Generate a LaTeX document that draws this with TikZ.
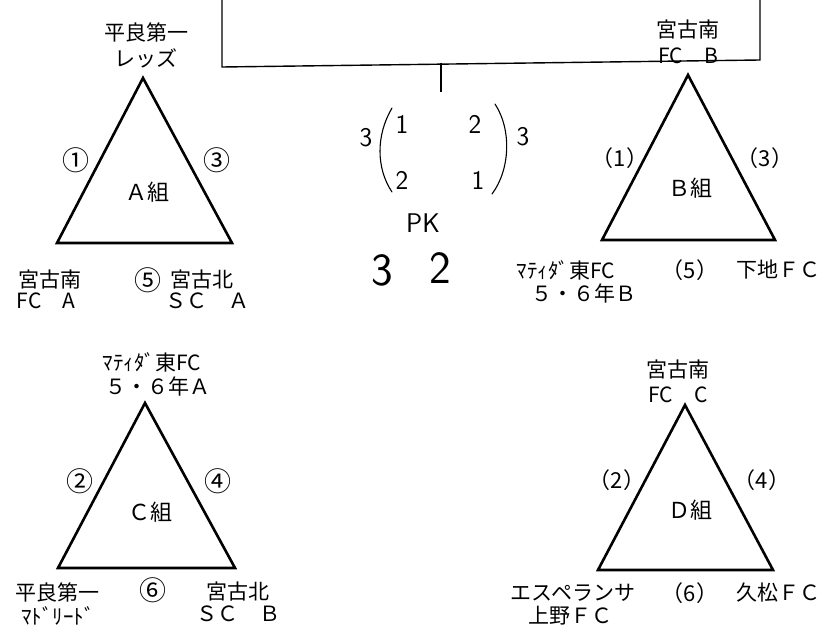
\documentclass[tikz,border=0pt]{standalone}
\usepackage{fontspec}
\setmainfont{Noto Sans CJK JP}
\usetikzlibrary{positioning}

\begin{document}
\begin{tikzpicture}[
    x=1pt, y=-1pt,
    every node/.style={font=\fontsize{21}{23}\selectfont, inner sep=1pt},
    num/.style={font=\fontsize{27}{28}\selectfont},
    pnum/.style={font=\fontsize{22}{24}\selectfont},
    grp/.style={font=\fontsize{22}{24}\selectfont},
    tri/.style={draw, line width=2.6pt, line join=miter},
    frame/.style={draw, line width=1.4pt},
    hand/.style={draw, line width=1.1pt, line cap=round},
    handtxt/.style={font=\fontsize{27}{29}\sffamily},
    bighand/.style={font=\fontsize{46}{48}\sffamily}
]
\useasboundingbox (0,0) rectangle (830,634);

\coordinate (topL) at (222,0);
\coordinate (cornL) at (222,67);
\coordinate (cornR) at (760,60);
\coordinate (topR) at (760,0);
\coordinate (tickA) at (441,63);
\coordinate (tickB) at (441,92);
\draw[frame] (topL) -- (cornL) -- (cornR) -- (topR);
\draw[frame] (tickA) -- (tickB);

\coordinate (a0) at (143,78);
\coordinate (a1) at (57,243);
\coordinate (a2) at (232,243);
\draw[tri] (a0) -- (a1) -- (a2) -- cycle;
\node (aTop) at (146,32) {平良第一};
\node (aTopB) [below=5pt of aTop] {レッズ};
\node[num] (aM1) at (76,160) {①};
\node[num] (aM3) at (217,160) {③};
\node[grp] (aName) at (147,192) {Ａ組};
\node (aLeft) at (50,280) {宮古南};
\node (aLeftB) [below=1pt of aLeft, xshift=-4pt] {FC　A};
\node[num] (aM5) at (148,280) {⑤};
\node (aRight) at (202,280) {宮古北};
\node (aRightB) [below=1pt of aRight, xshift=5pt] {ＳＣ　Ａ};

\coordinate (b0) at (688,75);
\coordinate (b1) at (602,240);
\coordinate (b2) at (775,240);
\draw[tri] (b0) -- (b1) -- (b2) -- cycle;
\node (bTop) at (688,30) {宮古南};
\node (bTopB) [below=6pt of bTop] {FC　B};
\node[pnum] (bM1) at (620,158) {（1）};
\node[pnum] (bM3) at (765,158) {（3）};
\node[grp] (bName) at (690,188) {Ｂ組};
\node (bLeft) at (566,270) {ﾏﾃｨﾀﾞ東FC};
\node (bLeftB) [below=2pt of bLeft, xshift=18pt] {５・６年Ｂ};
\node[pnum] (bM5) at (690,270) {（5）};
\node (bRight) at (778,270) {下地ＦＣ};

\coordinate (c0) at (145,403);
\coordinate (c1) at (58,568);
\coordinate (c2) at (235,568);
\draw[tri] (c0) -- (c1) -- (c2) -- cycle;
\node (cTop) at (152,362) {ﾏﾃｨﾀﾞ東FC};
\node (cTopB) [below=3pt of cTop, xshift=6pt] {５・６年Ａ};
\node[num] (cM2) at (80,481) {②};
\node[num] (cM4) at (218,481) {④};
\node[grp] (cName) at (150,512) {Ｃ組};
\node (cLeft) at (58,592) {平良第一};
\node (cLeftB) [below=2pt of cLeft] {ﾏﾄﾞﾘｰﾄﾞ};
\node[num] (cM6) at (153,590) {⑥};
\node (cRight) at (238,592) {宮古北};
\node (cRightB) [below=2pt of cRight] {ＳＣ　Ｂ};

\coordinate (d0) at (685,405);
\coordinate (d1) at (598,570);
\coordinate (d2) at (773,570);
\draw[tri] (d0) -- (d1) -- (d2) -- cycle;
\node (dTop) at (678,370) {宮古南};
\node (dTopB) [below=5pt of dTop] {FC　C};
\node[pnum] (dM2) at (617,480) {（2）};
\node[pnum] (dM4) at (762,480) {（4）};
\node[grp] (dName) at (690,510) {Ｄ組};
\node (dLeft) at (573,593) {エスペランサ};
\node (dLeftB) [below=2pt of dLeft, xshift=-3pt] {上野ＦＣ};
\node[pnum] (dM6) at (690,593) {（6）};
\node (dRight) at (778,593) {久松ＦＣ};

\node[handtxt] (pkL) at (366,138) {3};
\node[handtxt] (pk11) at (402,124) {1};
\node[handtxt] (pk21) at (402,180) {2};
\node[handtxt] (pk12) at (475,124) {2};
\node[handtxt] (pk22) at (478,180) {1};
\node[handtxt] (pkR) at (523,137) {3};
\coordinate (parL1) at (392,108);
\coordinate (parL2) at (392,192);
\coordinate (parR1) at (495,104);
\coordinate (parR2) at (492,194);
\draw[hand] (parL1) .. controls (376,135) and (376,168) .. (parL2);
\draw[hand] (parR1) .. controls (512,130) and (510,170) .. (parR2);
\node[handtxt] (pkTxt) at (423,223) {PK};
\node[bighand] (pkScA) at (382,270) {3};
\node[bighand] (pkScB) at (440,268) {2};
\end{tikzpicture}
\end{document}
